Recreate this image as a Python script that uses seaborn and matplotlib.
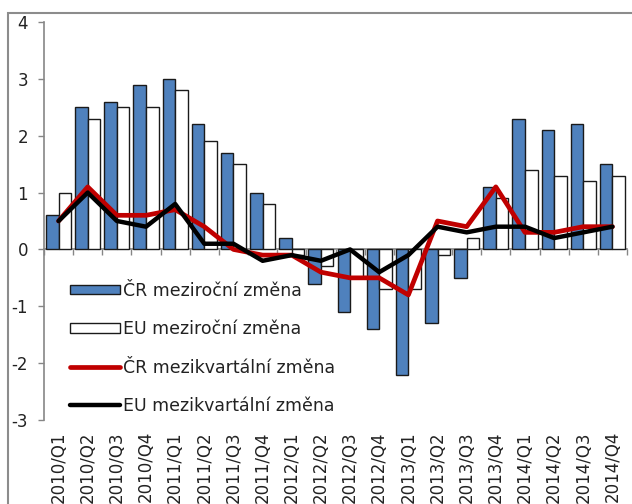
import matplotlib
matplotlib.use('Agg')
import matplotlib.pyplot as plt
import matplotlib.patches as mpatches
import numpy as np
import pandas as pd
import seaborn as sns

quarters = ['2010/Q1', '2010/Q2', '2010/Q3', '2010/Q4',
            '2011/Q1', '2011/Q2', '2011/Q3', '2011/Q4',
            '2012/Q1', '2012/Q2', '2012/Q3', '2012/Q4',
            '2013/Q1', '2013/Q2', '2013/Q3', '2013/Q4',
            '2014/Q1', '2014/Q2', '2014/Q3', '2014/Q4']
cz_yoy = [0.6, 2.5, 2.6, 2.9, 3.0, 2.2, 1.7, 1.0, 0.2, -0.6,
          -1.1, -1.4, -2.2, -1.3, -0.5, 1.1, 2.3, 2.1, 2.2, 1.5]
eu_yoy = [1.0, 2.3, 2.5, 2.5, 2.8, 1.9, 1.5, 0.8, -0.1, -0.3,
          -0.5, -0.7, -0.7, -0.1, 0.2, 0.9, 1.4, 1.3, 1.2, 1.3]
cz_qoq = [0.5, 1.1, 0.6, 0.6, 0.7, 0.4, 0.0, -0.1, -0.1, -0.4,
          -0.5, -0.5, -0.8, 0.5, 0.4, 1.1, 0.3, 0.3, 0.4, 0.4]
eu_qoq = [0.5, 1.0, 0.5, 0.4, 0.8, 0.1, 0.1, -0.2, -0.1, -0.2,
          0.0, -0.4, -0.1, 0.4, 0.3, 0.4, 0.4, 0.2, 0.3, 0.4]

lab_cz_yoy = 'ČR meziroční změna'
lab_eu_yoy = 'EU meziroční změna'
lab_cz_qoq = 'ČR mezikvartální změna'
lab_eu_qoq = 'EU mezikvartální změna'

sns.set_theme(style='white')
plt.rcParams['font.family'] = ['DejaVu Sans']
plt.rcParams['axes.unicode_minus'] = False

gray = '#868686'
text_col = '#222222'

df = pd.DataFrame({
    'quarter': quarters * 2,
    'series': [lab_cz_yoy] * len(quarters) + [lab_eu_yoy] * len(quarters),
    'value': cz_yoy + eu_yoy,
})

fig = plt.figure(figsize=(6.32, 5.04), dpi=100)
ax = fig.add_axes([44 / 632, 1 - 420 / 504, 583 / 632, 398 / 504])

sns.barplot(data=df, x='quarter', y='value', hue='series',
            hue_order=[lab_cz_yoy, lab_eu_yoy],
            palette={lab_cz_yoy: '#4F81BD', lab_eu_yoy: 'white'},
            saturation=1, width=0.86, edgecolor='#1a1a1a', linewidth=1.0,
            legend=False, ax=ax)

x = np.arange(len(quarters))
sns.lineplot(x=x, y=cz_qoq, color='#C00000', linewidth=3.4, ax=ax)
sns.lineplot(x=x, y=eu_qoq, color='black', linewidth=3.2, ax=ax)

ax.set_xlim(-0.5, len(quarters) - 0.5)
ax.set_ylim(-3, 4)
ax.set_xlabel('')
ax.set_ylabel('')

# category labels at the bottom, rotated
ax.set_xticks(x)
ax.set_xticklabels(quarters, rotation=90, fontsize=12, color=text_col)
ax.tick_params(axis='x', length=0, pad=8)
ax.set_yticks(range(-3, 5))
ax.tick_params(axis='y', length=4.5, width=1, color=gray, pad=7,
               labelsize=12, labelcolor=text_col, left=True)

for side in ['top', 'right', 'bottom']:
    ax.spines[side].set_visible(False)
ax.spines['left'].set_color(gray)
ax.spines['left'].set_linewidth(1.2)

# zero axis with ticks between categories
zero = ax.secondary_xaxis(3 / 7)
zero.set_xticks(np.arange(len(quarters) + 1) - 0.5,
                labels=[''] * (len(quarters) + 1))
zero.spines['bottom'].set_color(gray)
zero.spines['bottom'].set_linewidth(1.2)
zero.tick_params(axis='x', length=4, width=1, color=gray, bottom=True)

handles = [
    mpatches.Patch(facecolor='#4F81BD', edgecolor='#1a1a1a', linewidth=1.0),
    mpatches.Patch(facecolor='white', edgecolor='#1a1a1a', linewidth=1.0),
    plt.Line2D([], [], color='#C00000', linewidth=3.4),
    plt.Line2D([], [], color='black', linewidth=3.2),
]
ax.legend(handles, [lab_cz_yoy, lab_eu_yoy, lab_cz_qoq, lab_eu_qoq],
          loc='upper left', bbox_to_anchor=(0.044, 0.347), frameon=False,
          fontsize=12.5, handlelength=2.9, handleheight=0.45,
          handletextpad=0.15, labelspacing=1.17, borderpad=0,
          borderaxespad=0, labelcolor=text_col)

# outer chart frame
fig.patches.append(mpatches.Rectangle((8 / 632, -0.1), 1.2, 0.1 + 1 - 13 / 504,
                                      transform=fig.transFigure, fill=False,
                                      edgecolor='#8c8c8c', linewidth=1.5))

fig.savefig('out.png', dpi=100)
